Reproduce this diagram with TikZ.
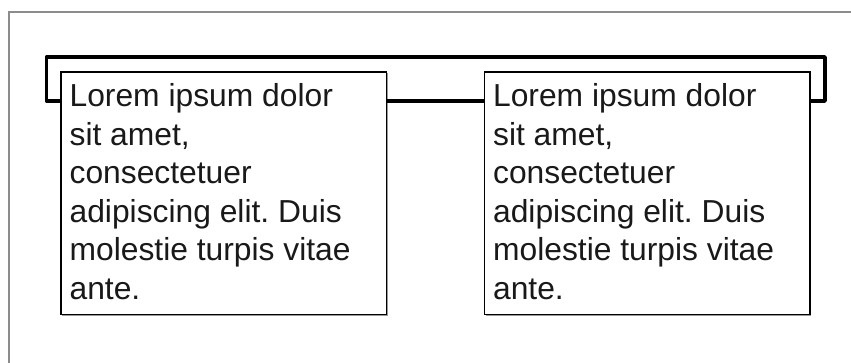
\documentclass[tikz,border=0pt]{standalone}
\usepackage{fontspec}
\setmainfont{Liberation Sans}
\usetikzlibrary{shadows}
\newcommand\cardfontsetup{\fontsize{31.8}{38.5}\selectfont\frenchspacing\hyphenpenalty=10000\relax\exhyphenpenalty=10000\relax}
\begin{document}
\begin{tikzpicture}[x=1pt,y=1pt,
  card/.style={draw=black, line width=1.3pt, fill=white, minimum width=325.5pt, minimum height=242.5pt,
    inner sep=0pt, outer sep=0pt, anchor=north west,
    drop shadow={shadow xshift=1.3pt, shadow yshift=-1.3pt, fill=black!40, opacity=1}},
  cardtext/.style={anchor=north west, inner sep=0pt, outer sep=0pt, align=left, text=black!90,
    font=\cardfontsetup},
  link/.style={line width=3.5pt, line join=round, black},
  frame/.style={draw=black!45, line width=2.2pt}]
\useasboundingbox (0,0) rectangle (851,-363);
\fill[white] (0,0) rectangle (851,-363);
\draw[frame] (8.7,-363) -- (8.7,-12.2) -- (851,-12.2);

\node[card] (b1) at (61,-72) {};
\node[card] (b2) at (484.5,-72) {};

\coordinate (lc) at (46.5,-57);
\coordinate (rc) at (825,-57);
\coordinate (b1w) at ([yshift=-29pt]b1.north west);
\coordinate (b1e) at ([yshift=-29pt]b1.north east);
\coordinate (b2w) at ([yshift=-29pt]b2.north west);
\coordinate (b2e) at ([yshift=-29pt]b2.north east);

\draw[link] (b1w) -- (b1w -| lc) -- (lc) -- (rc) -- (b2e -| rc) -- (b2e);
\draw[link] (b1e) -- (b2w);

\node[cardtext] (t1) at ([shift={(8.6,-11.6)}]b1.north west)
  {Lorem ipsum dolor\\sit amet,\\consectetuer\\adipiscing elit. Duis\\molestie turpis vitae\\ante.};
\node[cardtext] (t2) at ([shift={(8.6,-11.6)}]b2.north west)
  {Lorem ipsum dolor\\sit amet,\\consectetuer\\adipiscing elit. Duis\\molestie turpis vitae\\ante.};
\end{tikzpicture}
\end{document}
